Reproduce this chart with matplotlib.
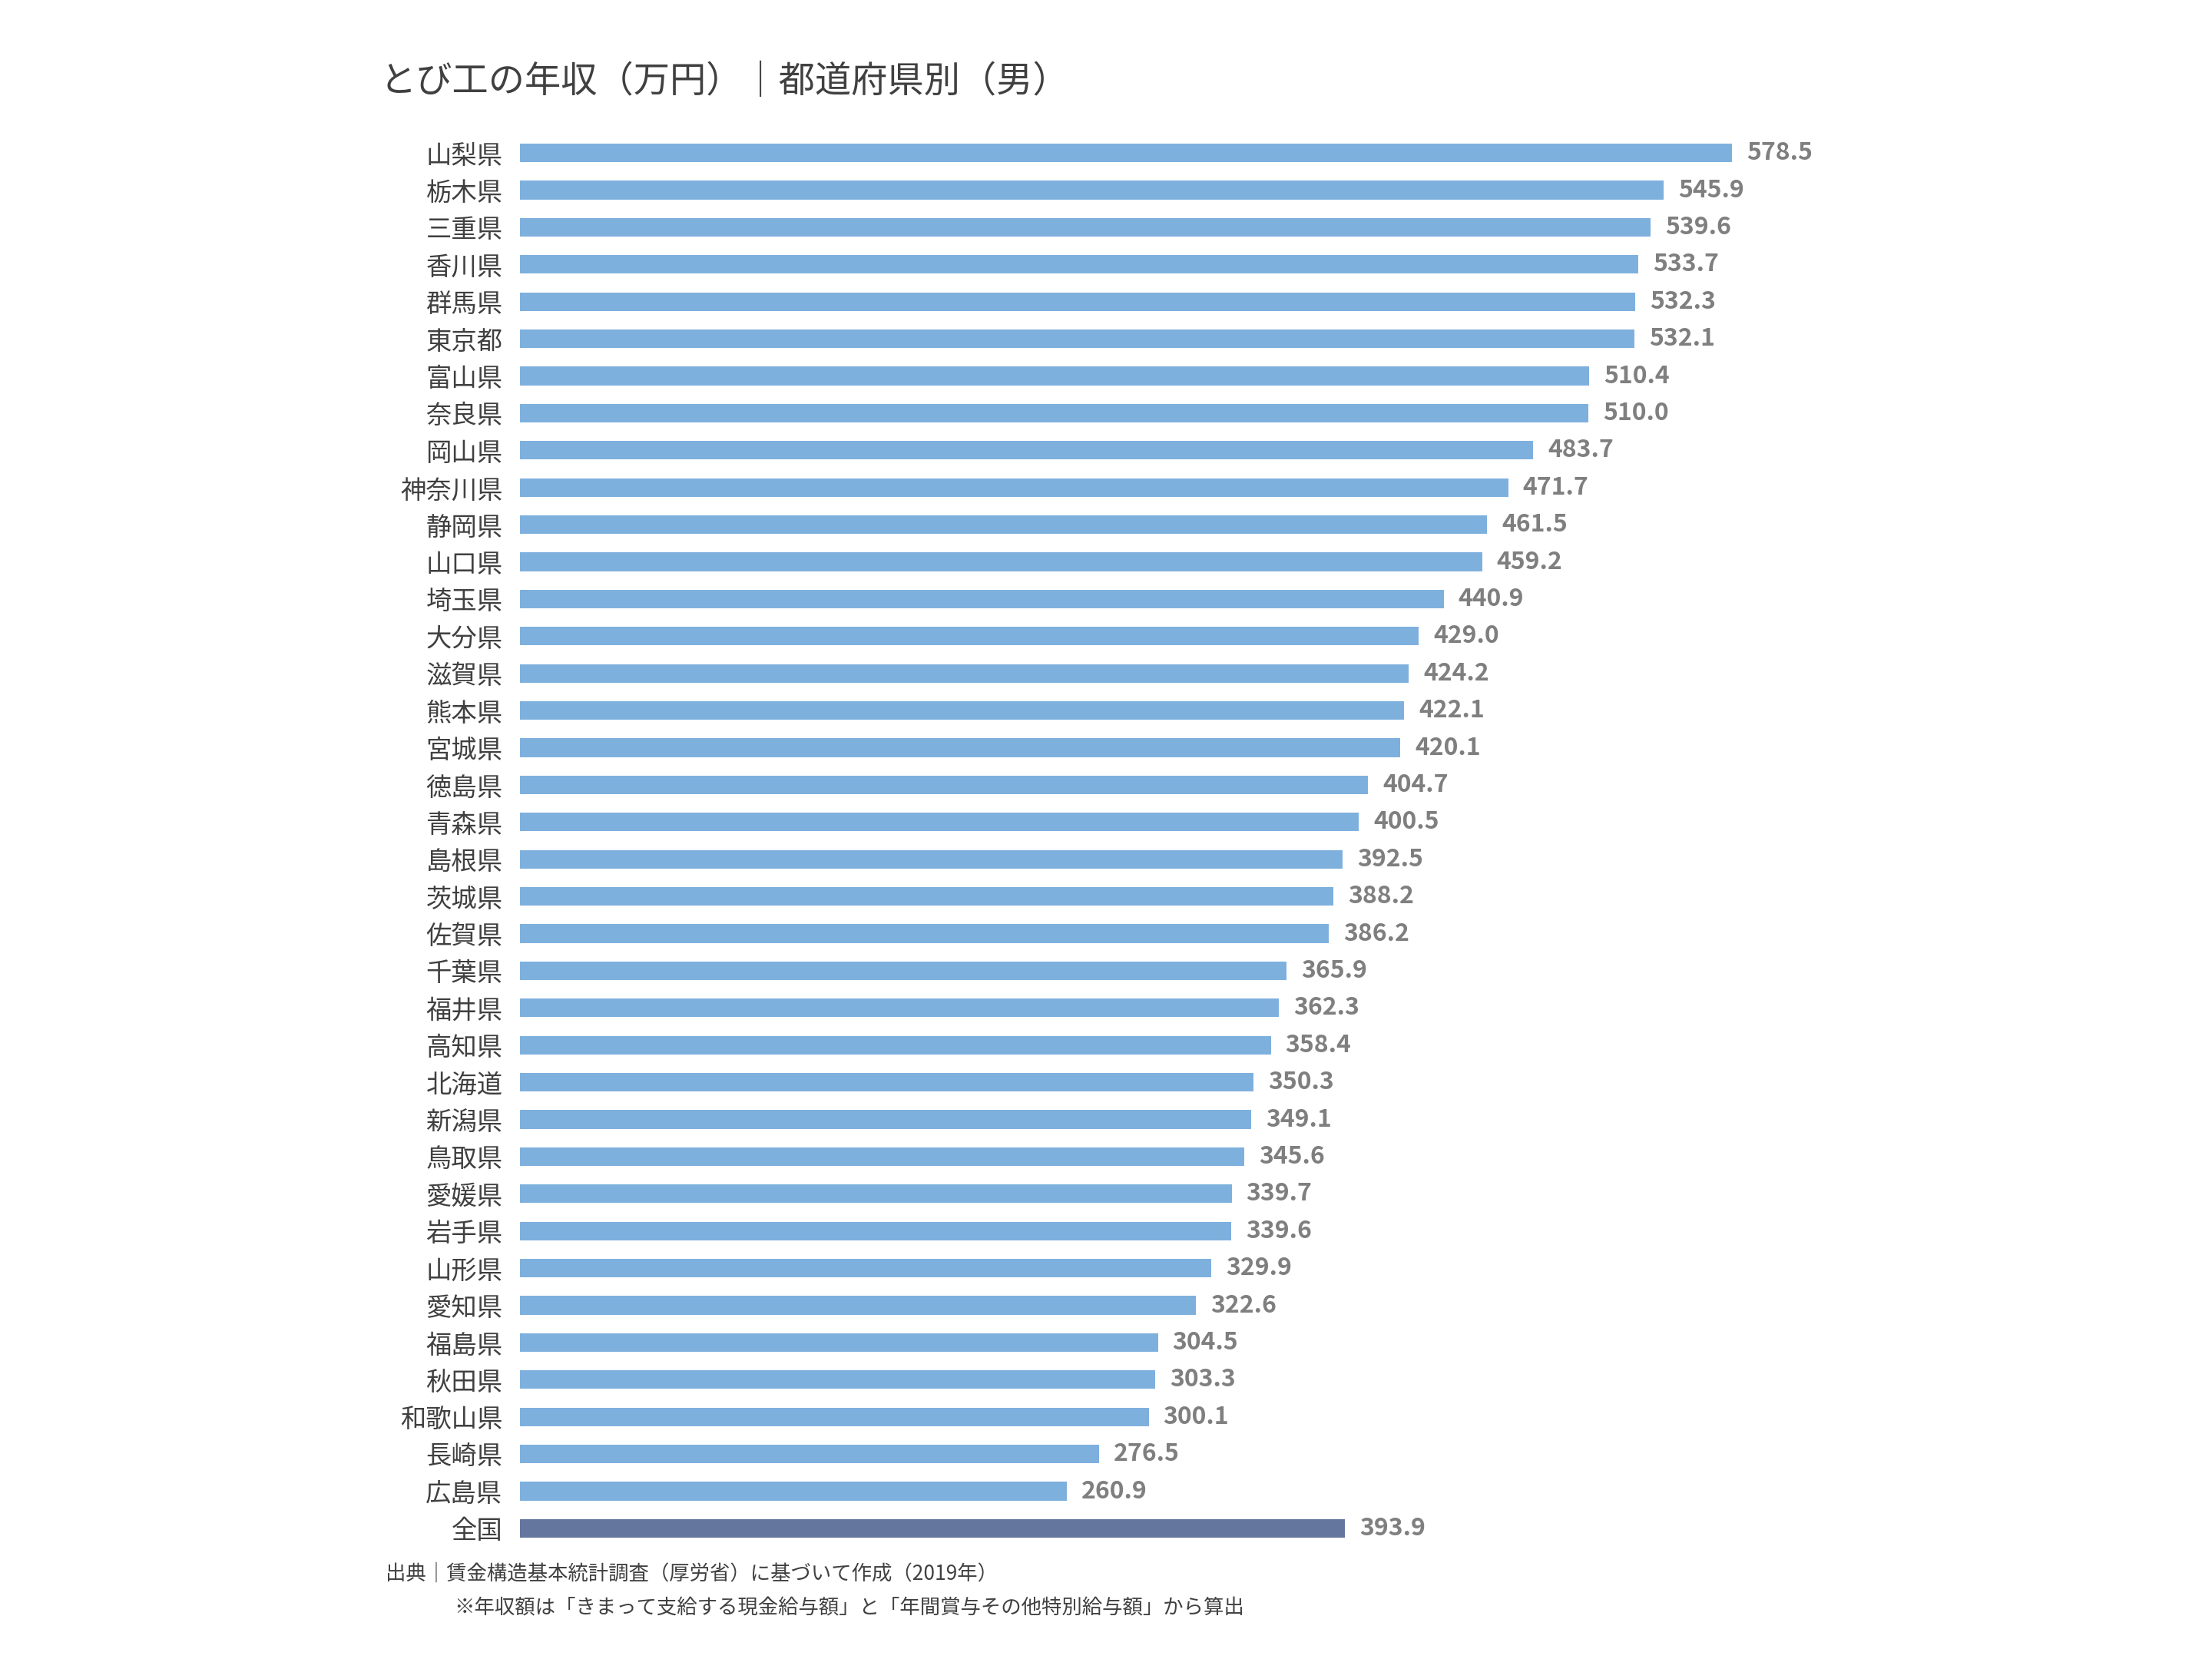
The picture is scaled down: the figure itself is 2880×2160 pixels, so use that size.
import matplotlib
matplotlib.use("Agg")
import matplotlib.pyplot as plt

plt.rcParams["font.family"] = "Noto Sans CJK JP"

prefs = ["山梨県","栃木県","三重県","香川県","群馬県","東京都","富山県","奈良県","岡山県","神奈川県",
         "静岡県","山口県","埼玉県","大分県","滋賀県","熊本県","宮城県","徳島県","青森県","島根県",
         "茨城県","佐賀県","千葉県","福井県","高知県","北海道","新潟県","鳥取県","愛媛県","岩手県",
         "山形県","愛知県","福島県","秋田県","和歌山県","長崎県","広島県","全国"]
values = [578.5,545.9,539.6,533.7,532.3,532.1,510.4,510.0,483.7,471.7,
          461.5,459.2,440.9,429.0,424.2,422.1,420.1,404.7,400.5,392.5,
          388.2,386.2,365.9,362.3,358.4,350.3,349.1,345.6,339.7,339.6,
          329.9,322.6,304.5,303.3,300.1,276.5,260.9,393.9]

fig = plt.figure(figsize=(14.4, 10.8), dpi=200)
ax = fig.add_axes([0.235, 0.0675, 0.665, 0.8515])
n = len(prefs)
colors = ["#7EB0DE"] * (n - 1) + ["#64769E"]
ys = list(range(n))
ax.barh(ys, values, height=0.5, color=colors)
ax.set_ylim(n - 0.5, -0.5)
ax.set_xlim(0, 702)
ax.set_yticks(ys)
ax.set_yticklabels(prefs, fontsize=12, color="#404040")
ax.tick_params(axis="y", length=0, pad=8)
ax.set_xticks([])
for s in ax.spines.values():
    s.set_visible(False)
for y, v in zip(ys, values):
    ax.text(v + 7, y, f"{v:.1f}", va="center", ha="left", fontsize=11.5,
            fontweight="bold", color="#7F7F7F")

fig.text(268/1560, 1 - 58/1170, "とび工の年収（万円）｜都道府県別（男）", fontsize=17,
         color="#404040", va="center", ha="left")
fig.text(272/1560, 1 - 1110/1170, "出典｜賃金構造基本統計調査（厚労省）に基づいて作成（2019年）",
         fontsize=9.5, color="#404040", va="center", ha="left")
fig.text(320/1560, 1 - 1134/1170, "※年収額は「きまって支給する現金給与額」と「年間賞与その他特別給与額」から算出",
         fontsize=9.5, color="#404040", va="center", ha="left")
fig.savefig("out.png", dpi=200, facecolor="white")
